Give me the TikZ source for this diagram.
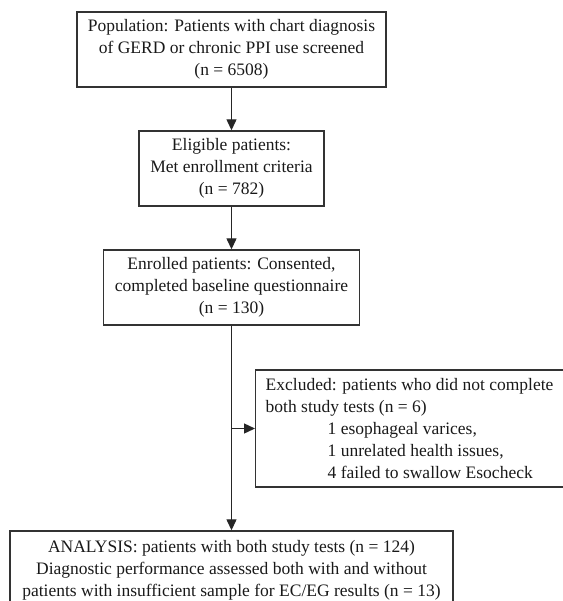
\documentclass[tikz,border=0pt]{standalone}
\usepackage{fontspec}
\setmainfont{Liberation Serif}
\usetikzlibrary{arrows.meta}
\begin{document}
\begin{tikzpicture}[x=1pt,y=-1pt,
  box/.style={draw=black!80,line width=1.4pt,inner sep=0pt,align=center,
    font=\fontsize{17.5}{22}\selectfont,text=black!90},
  conn/.style={draw=black!85,line width=1.3pt,-{Triangle[length=11pt,width=10pt]}}]
\useasboundingbox (0,0) rectangle (562,601);
\node[box,minimum width=309pt,minimum height=75pt] (pop) at (231.5,49.5)
  {Population: Patients with chart diagnosis\\of GERD or chronic PPI use screened\\(n = 6508)};
\node[box,minimum width=185pt,minimum height=75pt] (elig) at (231.5,168.5)
  {Eligible patients:\\Met enrollment criteria\\(n = 782)};
\node[box,minimum width=256pt,minimum height=75pt] (enr) at (231.5,287.5)
  {Enrolled patients: Consented,\\completed baseline questionnaire\\(n = 130)};
\node[box,minimum height=117pt,align=left,anchor=west,inner xsep=10pt] (exc) at (255,428.5)
  {Excluded: patients who did not complete\\both study tests (n = 6)\\
   \hspace*{62pt}1 esophageal varices,\\
   \hspace*{62pt}1 unrelated health issues,\\
   \hspace*{62pt}4 failed to swallow Esocheck};
\node[box,minimum width=443pt,minimum height=78pt] (ana) at (231.5,570)
  {ANALYSIS: patients with both study tests (n = 124)\\Diagnostic performance assessed both with and without\\patients with insufficient sample for EC/EG results (n = 13)};
\draw[conn] (pop.south) -- (elig.north);
\draw[conn] (elig.south) -- (enr.north);
\draw[conn] (enr.south) -- (ana.north);
\coordinate (branch) at (enr.south |- exc.west);
\draw[conn] (branch) -- (exc.west);
\end{tikzpicture}
\end{document}
